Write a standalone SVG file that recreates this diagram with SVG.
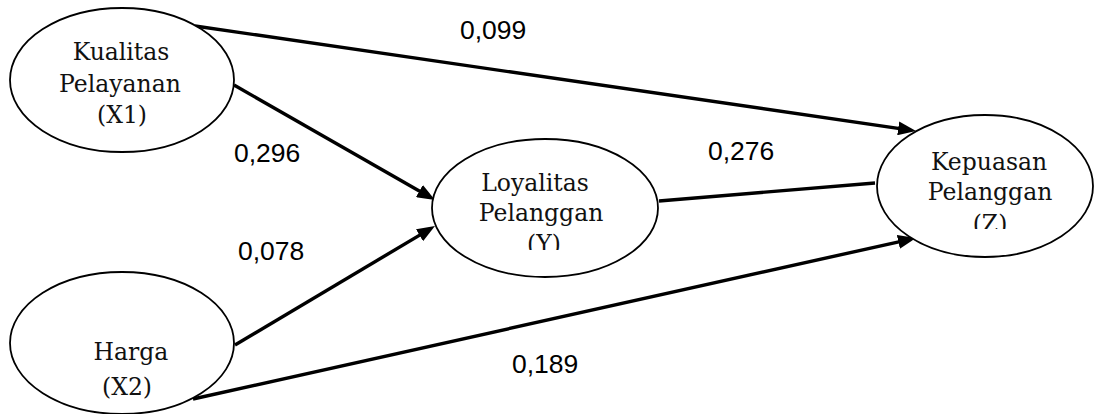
<svg xmlns="http://www.w3.org/2000/svg" width="1094" height="414" viewBox="0 0 1094 414">
<style>
.node ellipse{fill:#fff;stroke:#000;stroke-width:1.8}
.lbl{font-family:"DejaVu Serif","Liberation Serif",serif;font-size:23.5px;fill:#111;text-anchor:middle}
.num{font-family:"Liberation Sans",Arial,sans-serif;font-size:26.5px;fill:#000}
.edge{stroke:#000;stroke-width:3.4;fill:none}
</style>
<defs>
<marker id="arr" markerUnits="userSpaceOnUse" markerWidth="18" markerHeight="14" refX="12" refY="7" orient="auto">
<path d="M0,0 L18,7 L0,14 z" fill="#000"/>
</marker>
<clipPath id="clipY"><rect x="430" y="130" width="230" height="120"/></clipPath>
<clipPath id="clipZ"><rect x="870" y="110" width="224" height="119"/></clipPath>
</defs>
<g id="connectors">
<line class="edge" x1="234" y1="85" x2="429.8" y2="197" marker-end="url(#arr)"/>
<line class="edge" x1="235" y1="345" x2="429.8" y2="229.1" marker-end="url(#arr)"/>
<line class="edge" x1="195" y1="26" x2="910.1" y2="130.1" marker-end="url(#arr)"/>
<line class="edge" x1="193" y1="399" x2="910.1" y2="239.3" marker-end="url(#arr)"/>
<line class="edge" x1="659" y1="201" x2="875" y2="183"/>
</g>
<g id="labels">
<text class="num" x="460" y="39">0,099</text>
<text class="num" x="234" y="162">0,296</text>
<text class="num" x="238" y="260">0,078</text>
<text class="num" x="708" y="160">0,276</text>
<text class="num" x="512" y="373">0,189</text>
</g>
<g id="node-x1" class="node">
<ellipse cx="122" cy="80" rx="112" ry="72"/>
<text class="lbl" x="121" y="60">Kualitas</text>
<text class="lbl" x="120" y="92">Pelayanan</text>
<text class="lbl" x="122" y="123">(X1)</text>
</g>
<g id="node-x2" class="node">
<ellipse cx="122" cy="343" rx="112" ry="71"/>
<text class="lbl" x="131" y="360">Harga</text>
<text class="lbl" x="127" y="395">(X2)</text>
</g>
<g id="node-y" class="node">
<ellipse cx="545" cy="208" rx="113" ry="69"/>
<text class="lbl" x="535" y="191">Loyalitas</text>
<text class="lbl" x="541" y="221">Pelanggan</text>
<text class="lbl" x="544" y="252" clip-path="url(#clipY)">(Y)</text>
</g>
<g id="node-z" class="node">
<ellipse cx="985" cy="186" rx="108" ry="71"/>
<text class="lbl" x="989" y="170">Kepuasan</text>
<text class="lbl" x="990" y="200">Pelanggan</text>
<text class="lbl" x="990" y="232" clip-path="url(#clipZ)">(Z)</text>
</g>
</svg>
